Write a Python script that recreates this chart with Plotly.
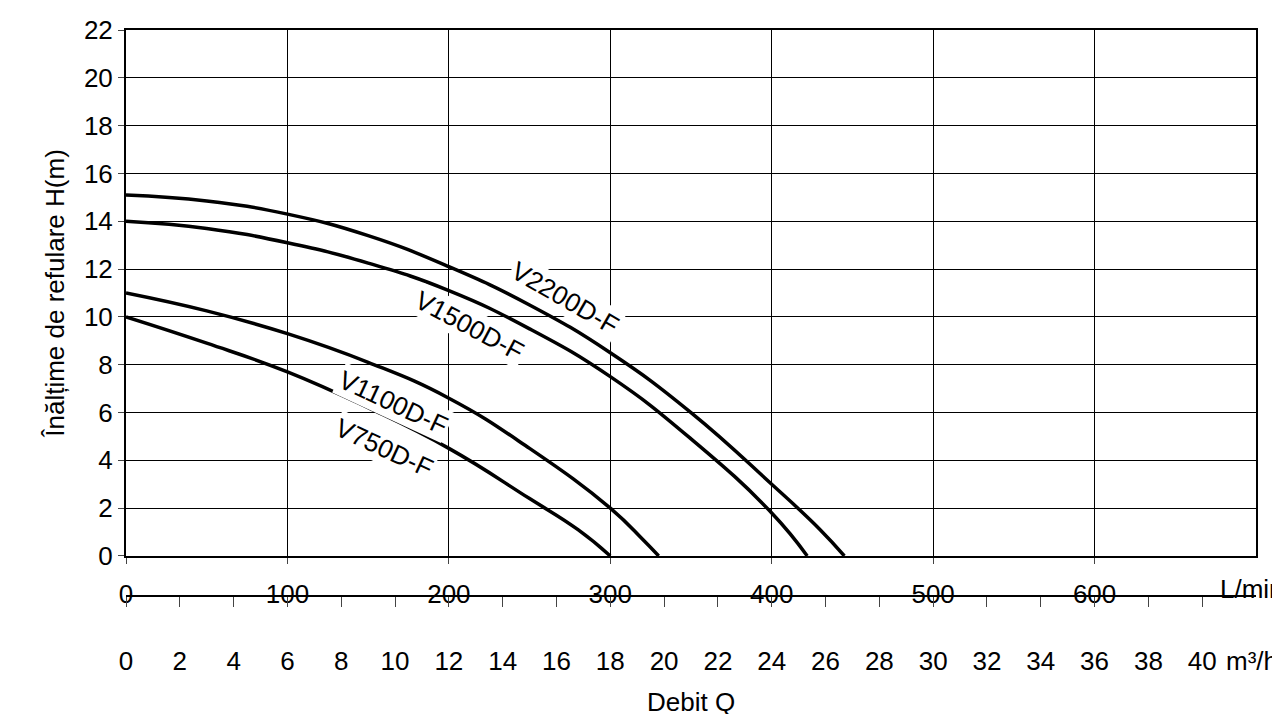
import plotly.graph_objects as go

q_2200 = [0, 50, 100, 150, 200, 250, 300, 350, 400, 430, 445]
h_2200 = [15.1, 14.85, 14.3, 13.4, 12.1, 10.5, 8.5, 6.0, 3.0, 1.1, 0]
q_1500 = [0, 50, 100, 150, 200, 250, 300, 350, 400, 422]
h_1500 = [14.0, 13.7, 13.1, 12.25, 11.1, 9.5, 7.5, 4.9, 1.8, 0]
q_1100 = [0, 50, 100, 150, 200, 250, 300, 320, 330]
h_1100 = [11.0, 10.25, 9.3, 8.1, 6.6, 4.5, 2.0, 0.7, 0]
q_750 = [0, 50, 100, 150, 200, 250, 280, 300]
h_750 = [10.0, 8.9, 7.7, 6.2, 4.5, 2.4, 1.1, 0]
labels = ["V2200D-F", "V1500D-F", "V1100D-F", "V750D-F"]
label_x = [272, 213, 166, 160]
label_y = [10.8, 9.6, 6.4, 4.5]
label_ang = [30, 28, 25, 25]

font = "Liberation Sans, Arial, sans-serif"
fig = go.Figure()
for q, h in [(q_2200, h_2200), (q_1500, h_1500), (q_1100, h_1100), (q_750, h_750)]:
    fig.add_trace(go.Scatter(x=q, y=h, mode="lines",
                             line=dict(color="black", width=3.5, shape="spline", smoothing=1.3),
                             showlegend=False, hoverinfo="skip"))
fig.add_trace(go.Scatter(x=[0, 42], y=[0, 0], xaxis="x2", yaxis="y", mode="lines",
                         line=dict(width=0), showlegend=False, hoverinfo="skip"))

for t, x, y, a in zip(labels, label_x, label_y, label_ang):
    fig.add_annotation(x=x, y=y, text=t, textangle=a, showarrow=False,
                       font=dict(size=26, color="black", family=font), bgcolor="white")

fig.update_layout(
    width=1280, height=714, margin=dict(l=118, r=32, t=22, b=20, autoexpand=False),
    plot_bgcolor="white", paper_bgcolor="white",
    font=dict(family=font, size=26, color="black"),
    xaxis=dict(range=[0, 700], tickvals=[0, 100, 200, 300, 400, 500, 600],
               showgrid=True, gridcolor="black", gridwidth=1, showline=True, linecolor="black",
               linewidth=2, mirror=True, ticks="outside", ticklen=6, zeroline=False,
               anchor="y", automargin=False, ticklabelstandoff=8),
    yaxis=dict(range=[0, 22], dtick=2, domain=[0.2173, 1], showgrid=True, gridcolor="black",
               gridwidth=1, showline=True, linecolor="black", linewidth=2, mirror=True,
               ticks="outside", ticklen=6, zeroline=False, automargin=False,
               title=dict(text="Înălțime de refulare H(m)", font=dict(size=26), standoff=12)),
    xaxis2=dict(range=[0, 42], tickvals=list(range(0, 41, 2)), anchor="free", position=0.1577,
                overlaying="x", showline=True, linecolor="black", linewidth=2, ticks="outside",
                ticklen=10, showgrid=False, zeroline=False, side="bottom", automargin=False,
                ticklabelstandoff=32),
)
fig.add_annotation(x=1.0, xref="paper", xanchor="right", y=0.2173, yref="paper", yanchor="top",
                   yshift=-16, xshift=30, text="L/min", showarrow=False)
fig.add_annotation(x=1.0, xref="paper", xanchor="right", y=0.1577, yref="paper", yanchor="top",
                   yshift=-48, xshift=24, text="m³/h", showarrow=False)
fig.add_annotation(x=(683 - 118) / 1130, xref="paper", y=0.0, yref="paper", yanchor="middle",
                   text="Debit Q", showarrow=False)
fig.write_html("out.html")
